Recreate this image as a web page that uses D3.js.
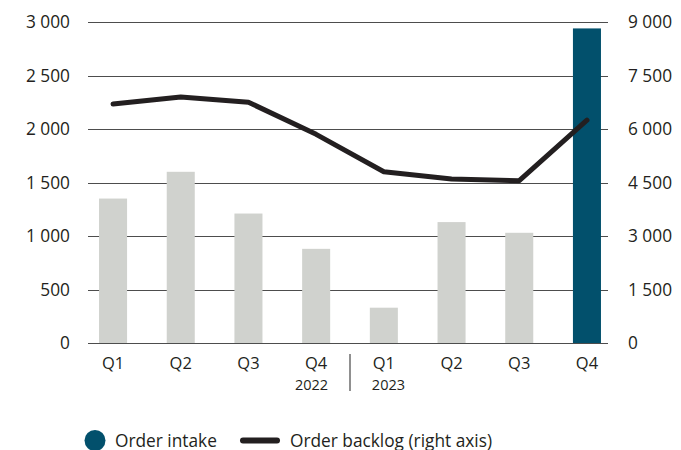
<!DOCTYPE html>
<html><head><meta charset="utf-8">
<script src="https://cdn.jsdelivr.net/npm/d3@7"></script>
<style>
body{margin:0;background:#fff;}
text{font-family:"Open Sans",sans-serif;fill:#231f20;}
</style></head>
<body><svg id="c" width="681" height="450"></svg>
<script>
const categories = ["Q1","Q2","Q3","Q4","Q1","Q2","Q3","Q4"];
const years = ["2022","2023"];
const orderIntake = [1350,1600,1210,880,330,1130,1030,2940];
const orderBacklog = [6700,6900,6750,5850,4800,4600,4550,6250];
const leftTicks = [0,500,1000,1500,2000,2500,3000];
const rightTicks = [0,1500,3000,4500,6000,7500,9000];
const legendLabels = ["Order intake","Order backlog (right axis)"];

const svg = d3.select("#c");
const fmt = v => d3.format(",")(v).replace(/,/g," ");
const idx = d3.range(categories.length);
const x = d3.scaleBand().domain(idx).range([79.2,620.8]).paddingInner(0.586).paddingOuter(0.293);
const yL = d3.scaleLinear().domain([0,3000]).range([343,22]);
const yR = d3.scaleLinear().domain([0,9000]).range([343,22]);
const FS = 17.3;

// gridlines
svg.append("g").selectAll("line").data(leftTicks).join("line")
  .attr("x1",88).attr("x2",608)
  .attr("y1",d=>Math.round(yL(d))+0.5).attr("y2",d=>Math.round(yL(d))+0.5)
  .attr("stroke","#4d4d4d").attr("stroke-width",1);

// left axis labels
svg.append("g").selectAll("text").data(leftTicks).join("text")
  .attr("x",70).attr("y",d=>yL(d)).attr("dy","0.35em")
  .attr("text-anchor","end").attr("font-size",FS).text(fmt);
// right axis labels
svg.append("g").selectAll("text").data(rightTicks).join("text")
  .attr("x",628).attr("y",d=>yR(d)).attr("dy","0.35em")
  .attr("text-anchor","start").attr("font-size",FS).text(fmt);

// bars
svg.append("g").selectAll("rect").data(orderIntake).join("rect")
  .attr("x",(d,i)=>x(i)).attr("width",x.bandwidth())
  .attr("y",d=>yL(d)).attr("height",d=>yL(0)-yL(d))
  .attr("fill",(d,i)=>i===orderIntake.length-1?"#02506c":"#d0d2ce");

// line
const line = d3.line().x((d,i)=>x(i)+x.bandwidth()/2).y(d=>yR(d));
svg.append("path").datum(orderBacklog).attr("d",line)
  .attr("fill","none").attr("stroke","#231f20").attr("stroke-width",5)
  .attr("stroke-linecap","round").attr("stroke-linejoin","round");

// x labels
svg.append("g").selectAll("text").data(categories).join("text")
  .attr("x",(d,i)=>x(i)+x.bandwidth()/2).attr("y",369)
  .attr("text-anchor","middle").attr("font-size",16.5).text(d=>d);

// year labels
const c3 = x(3)+x.bandwidth()/2, c4 = x(4)+x.bandwidth()/2;
svg.append("text").attr("x",c3+12).attr("y",389.5).attr("text-anchor","end").attr("font-size",14.5).text(years[0]);
svg.append("text").attr("x",c4-12).attr("y",389.5).attr("text-anchor","start").attr("font-size",14.5).text(years[1]);
svg.append("line").attr("x1",(c3+c4)/2).attr("x2",(c3+c4)/2).attr("y1",354).attr("y2",391)
  .attr("stroke","#6b6b6b").attr("stroke-width",1.5);

// legend
svg.append("circle").attr("cx",95).attr("cy",440.5).attr("r",10.5).attr("fill","#02506c");
svg.append("text").attr("x",115).attr("y",446.5).attr("font-size",FS).text(legendLabels[0]);
svg.append("line").attr("x1",243).attr("x2",277).attr("y1",440.5).attr("y2",440.5)
  .attr("stroke","#231f20").attr("stroke-width",6).attr("stroke-linecap","round");
svg.append("text").attr("x",290).attr("y",446.5).attr("font-size",FS).text(legendLabels[1]);
</script></body></html>
